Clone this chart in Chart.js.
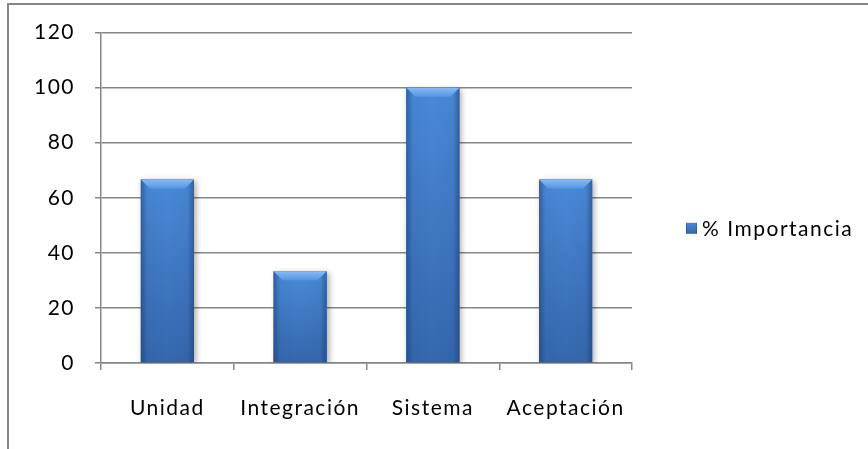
<!DOCTYPE html>
<html>
<head>
<meta charset="utf-8">
<script src="https://cdn.jsdelivr.net/npm/chart.js@4.4.1/dist/chart.umd.min.js"></script>
<style>
  html, body { margin: 0; padding: 0; background: #fff; }
  #chart { display: block; }
</style>
</head>
<body>
<canvas id="chart" width="868" height="449"></canvas>
<script>
const categories = ["Unidad", "Integración", "Sistema", "Aceptación"];
const importance = [66.67, 33.33, 100, 66.67];
const seriesLabel = "% Importancia";
const yTicks = [0, 20, 40, 60, 80, 100, 120];

const GRID = "#868686";
const FONT = { family: "Lato, 'Liberation Sans', sans-serif", size: 21 };

// letter spacing so the text looks like the old Calibri rendering
const tracking = {
  id: "tracking",
  beforeUpdate(chart) { chart.ctx.letterSpacing = "1.5px"; },
  beforeDraw(chart) { chart.ctx.letterSpacing = "1.5px"; },
};

// outer frame, cut off at right and bottom like the source
const frame = {
  id: "frame",
  beforeDraw(chart) {
    const ctx = chart.ctx;
    ctx.save();
    ctx.strokeStyle = GRID;
    ctx.lineWidth = 2;
    ctx.strokeRect(8, 4, chart.width + 20, chart.height + 20);
    ctx.restore();
  },
};

function paintBar(ctx, l, top, w, h, bevel) {
  const r = l + w;
  // body: lighter at top, darker at bottom
  const vg = ctx.createLinearGradient(0, top, 0, top + h);
  vg.addColorStop(0, "#4a8ad9");
  vg.addColorStop(1, "#3567ad");
  ctx.fillStyle = vg;
  ctx.fillRect(l, top, w, h);
  // darker sides
  const hg = ctx.createLinearGradient(l, 0, r, 0);
  hg.addColorStop(0, "rgba(20,45,90,0.45)");
  hg.addColorStop(0.12, "rgba(20,45,90,0.05)");
  hg.addColorStop(0.5, "rgba(20,45,90,0)");
  hg.addColorStop(0.88, "rgba(20,45,90,0.05)");
  hg.addColorStop(1, "rgba(20,45,90,0.45)");
  ctx.fillStyle = hg;
  ctx.fillRect(l, top, w, h);
  if (bevel > 0) {
    const tg = ctx.createLinearGradient(0, top, 0, top + bevel);
    tg.addColorStop(0, "#86bcf6");
    tg.addColorStop(1, "#5596e2");
    ctx.fillStyle = tg;
    ctx.beginPath();
    ctx.moveTo(l, top);
    ctx.lineTo(r, top);
    ctx.lineTo(r - bevel, top + bevel);
    ctx.lineTo(l + bevel, top + bevel);
    ctx.closePath();
    ctx.fill();
  }
}

const barShade = {
  id: "barShade",
  beforeDatasetsDraw(chart) {
    const ctx = chart.ctx;
    ctx.save();
    ctx.shadowColor = "rgba(0,0,0,0.35)";
    ctx.shadowBlur = 6;
    ctx.shadowOffsetX = 2;
    ctx.shadowOffsetY = 2;
  },
  afterDatasetsDraw(chart) {
    const ctx = chart.ctx;
    ctx.restore();
    chart.getDatasetMeta(0).data.forEach((bar) => {
      const { x, y, base, width } = bar.getProps(["x", "y", "base", "width"], true);
      ctx.save();
      paintBar(ctx, x - width / 2, y, width, base - y, 9);
      ctx.restore();
    });
  },
};

// legend drawn by hand, to the right of the plot
const sideLegend = {
  id: "sideLegend",
  afterDraw(chart) {
    const ctx = chart.ctx;
    const area = chart.chartArea;
    const cy = (area.top + area.bottom) / 2 + 31;
    const bx = 686;
    ctx.save();
    paintBar(ctx, bx, cy - 6, 11, 11, 0);
    ctx.fillStyle = "#000";
    ctx.font = "21px " + FONT.family;
    ctx.letterSpacing = "1.5px";
    ctx.textBaseline = "middle";
    ctx.textAlign = "left";
    ctx.fillText(chart.data.datasets[0].label, bx + 16, cy);
    ctx.restore();
  },
};

new Chart(document.getElementById("chart"), {
  type: "bar",
  data: {
    labels: categories,
    datasets: [
      {
        label: seriesLabel,
        data: importance,
        backgroundColor: "#3f7cc8",
        borderWidth: 0,
        barPercentage: 0.4,
        categoryPercentage: 1,
      },
    ],
  },
  options: {
    responsive: false,
    animation: false,
    layout: { padding: { top: 32, right: 236, left: 0, bottom: 0 } },
    plugins: {
      legend: { display: false },
      tooltip: { enabled: false },
    },
    scales: {
      x: {
        grid: {
          display: true,
          drawOnChartArea: false,
          drawTicks: true,
          tickLength: 7,
          color: GRID,
          lineWidth: 1.5,
          offset: true,
        },
        border: { display: true, color: GRID, width: 1.5 },
        ticks: { color: "#000", font: FONT, padding: 26 },
        afterFit: (s) => { s.height = 86; },
      },
      y: {
        min: 0,
        max: 120,
        grid: { color: GRID, tickLength: 6, lineWidth: 1.5 },
        border: { display: true, color: GRID, width: 1.5 },
        ticks: { color: "#000", font: FONT, padding: 20 },
        afterBuildTicks: (s) => { s.ticks = yTicks.map((v) => ({ value: v })); },
        afterFit: (s) => { s.width = 101; },
      },
    },
  },
  plugins: [tracking, frame, barShade, sideLegend],
});
</script>
</body>
</html>
